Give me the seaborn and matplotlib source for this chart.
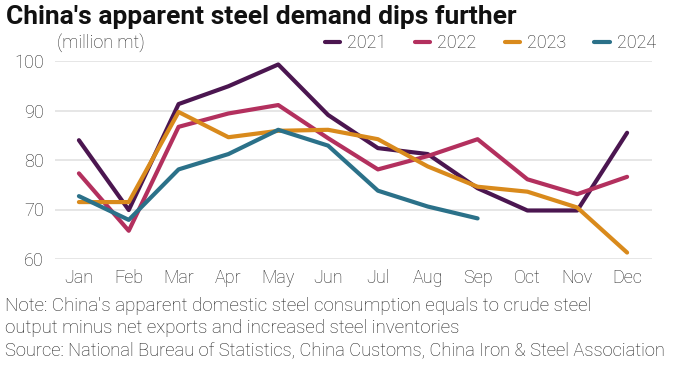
import pandas as pd
import matplotlib
matplotlib.use("Agg")
import matplotlib.pyplot as plt
import seaborn as sns

# Data
months = ["Jan", "Feb", "Mar", "Apr", "May", "Jun", "Jul", "Aug", "Sep", "Oct", "Nov", "Dec"]
demand_2021 = [84.0, 69.9, 91.3, 94.9, 99.3, 89.1, 82.4, 81.2, 74.3, 69.8, 69.8, 85.5]
demand_2022 = [77.3, 65.7, 86.7, 89.4, 91.1, 84.4, 78.1, 80.8, 84.2, 76.1, 73.1, 76.6]
demand_2023 = [71.5, 71.5, 89.7, 84.6, 85.9, 86.1, 84.2, 78.7, 74.6, 73.6, 70.4, 61.3]
demand_2024 = [72.7, 67.9, 78.1, 81.2, 86.1, 82.9, 73.8, 70.6, 68.2]
years = ["2021", "2022", "2023", "2024"]
colors = ["#4b1650", "#b3305e", "#d98a1c", "#2b7189"]

rows = []
for year, vals in zip(years, [demand_2021, demand_2022, demand_2023, demand_2024]):
    for i, v in enumerate(vals):
        rows.append({"year": year, "month": i, "value": v})
df = pd.DataFrame(rows)

sns.set_theme(style="white")
plt.rcParams["font.family"] = ["Roboto", "DejaVu Sans"]

fig = plt.figure(figsize=(6.77, 3.66), dpi=100)
ax = fig.add_axes([55 / 677, 1 - 259 / 366, (652 - 55) / 677, 198 / 366])

sns.lineplot(data=df, x="month", y="value", hue="year", palette=colors,
             linewidth=3, ax=ax, legend=False, clip_on=False)

ax.set_xlim(-0.48, 11.5)
ax.set_ylim(60, 100)
ax.set_yticks([60, 70, 80, 90, 100])
ax.set_xticks(range(12))
ax.set_xticklabels(months)
ax.set_xlabel("")
ax.set_ylabel("")
ax.grid(axis="y", color="#e4e4e4", linewidth=1.3)
ax.set_axisbelow(True)
for s in ax.spines.values():
    s.set_visible(False)
ax.tick_params(axis="y", length=0, labelsize=13, colors="#262626", pad=8)
ax.tick_params(axis="x", length=0, labelsize=13, colors="#262626", pad=7)
for lab in ax.get_xticklabels() + ax.get_yticklabels():
    lab.set_fontweight("light")

# Legend
handles = [plt.Line2D([], [], color=c, linewidth=3) for c in colors]
fig.legend(handles, years, loc="center right", bbox_to_anchor=(656 / 677, 1 - 43 / 366),
           ncol=4, frameon=False, handlelength=0.85, handletextpad=0.4,
           columnspacing=1.55, borderaxespad=0, borderpad=0,
           prop={"size": 13, "weight": "light"})

fig.text(6 / 677, 1 - 17 / 366, "China's apparent steel demand dips further",
         fontsize=19, fontweight="bold", va="center", ha="left", color="#111111")
fig.text(57 / 677, 1 - 43 / 366, "(million mt)", fontsize=13, fontweight="light",
         va="center", ha="left", color="#262626")

footer = [
    ("Note: China's apparent domestic steel consumption equals to crude steel", 311, 13.5),
    ("output minus net exports and increased steel inventories", 333, 13.5),
    ("Source: National Bureau of Statistics, China Customs, China Iron & Steel Association", 355, 13.2),
]
for txt, base, size in footer:
    fig.text(5 / 677, 1 - base / 366, txt, fontsize=size, fontweight="light",
             va="baseline", ha="left", color="#1e1e1e")

fig.savefig("out.png", dpi=100)
